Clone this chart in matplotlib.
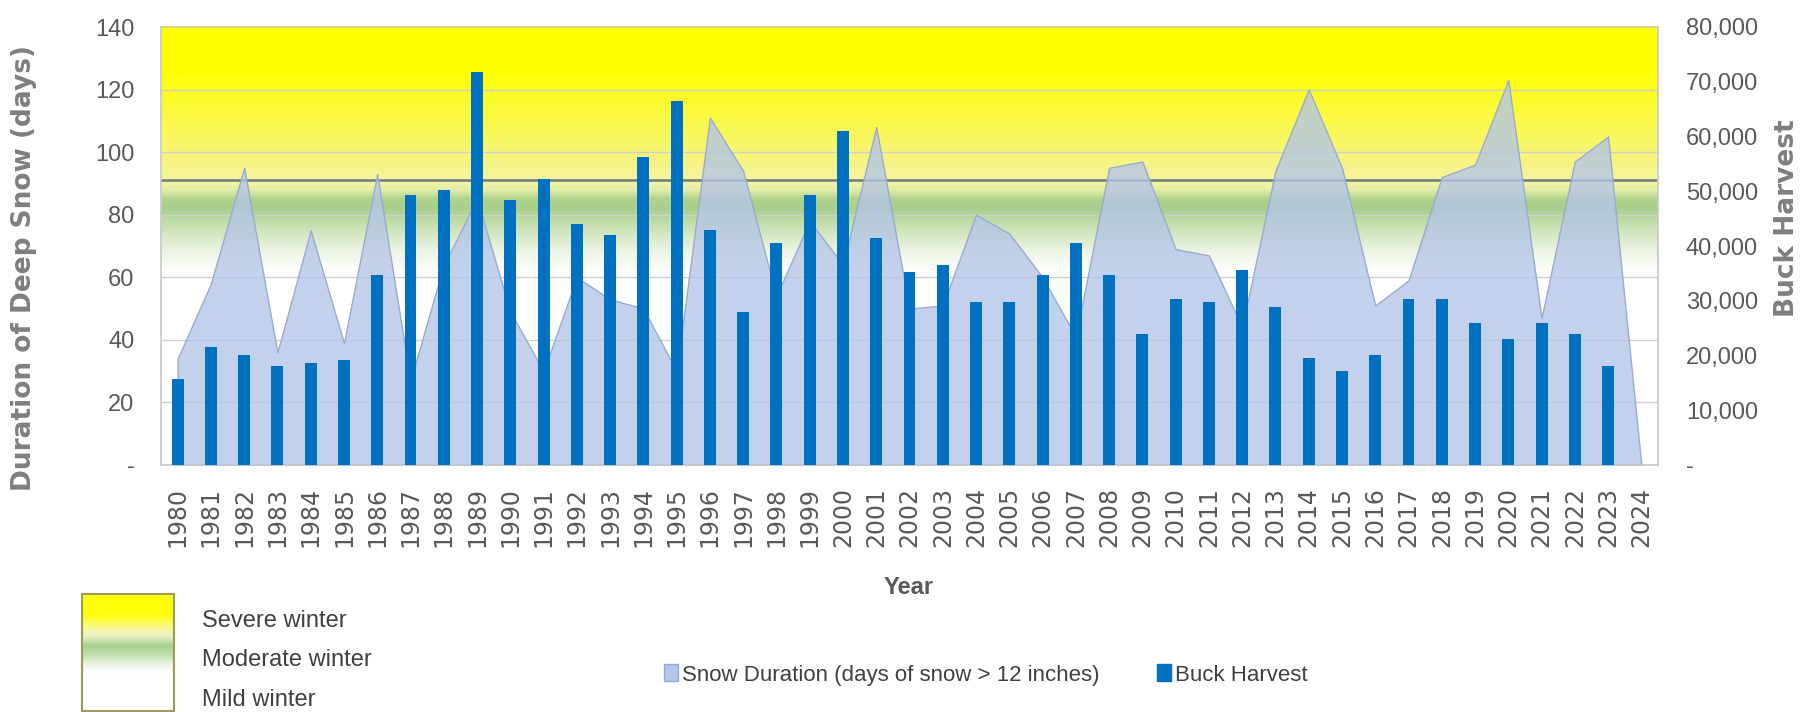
import numpy as np
import matplotlib
matplotlib.use('Agg')
import matplotlib.pyplot as plt
from matplotlib import font_manager
from matplotlib.colors import LinearSegmentedColormap, to_rgba
from matplotlib.patches import Patch

# narrow font if there is one, otherwise Liberation Sans at a smaller size
try:
    font_manager.findfont('Liberation Sans Narrow', fallback_to_default=False)
    NARROW, SCALE = 'Liberation Sans Narrow', 1.2
except ValueError:
    NARROW, SCALE = 'Liberation Sans', 1.0

years = list(range(1980, 2025))

# days of snow > 12 inches (left axis)
snow_days = [34, 58, 95, 36, 75, 39, 93, 27, 64, 85,
             49, 30, 60, 53, 50, 30, 111, 94, 54, 78,
             64, 108, 50, 51, 80, 74, 60, 41, 95, 97,
             69, 67, 44, 94, 120, 95, 51, 59, 92, 96,
             123, 47, 97, 105, 0]

# buck harvest (right axis)
buck_harvest = [15700, 21600, 20100, 18100, 18700, 19100, 34700, 49400, 50300, 71800,
                48400, 52200, 44000, 42000, 56300, 66500, 43000, 27900, 40600, 49400,
                61000, 41500, 35200, 36600, 29800, 29800, 34700, 40600, 34700, 23900,
                30300, 29800, 35700, 28900, 19600, 17100, 20100, 30300, 30300, 25900,
                23000, 25900, 23900, 18100, 0]

severe_line = 91  # days, border between moderate and severe winter

left_ticks = [0, 20, 40, 60, 80, 100, 120, 140]
right_ticks = [0, 10000, 20000, 30000, 40000, 50000, 60000, 70000, 80000]

W, H = 1808, 712
fig = plt.figure(figsize=(W / 100, H / 100), dpi=100)
fig.patch.set_facecolor('white')

ax1 = fig.add_axes([161 / W, 1 - 465 / H, (1658 - 161) / W, (465 - 27) / H])
x = np.arange(len(years))

# background: yellow (severe) -> green (moderate) -> white (mild)
bg_stops = [(0, '#FFFFFF'), (61, '#FFFFFF'), (68, '#EEF5E6'), (76, '#CBE2B5'),
            (82, '#A8CF8C'), (85, '#B0D28C'), (88, '#E2EDAA'), (90.5, '#F4F4A0'),
            (95, '#F6F48C'), (105, '#F9F760'), (118, '#FDFC28'), (126, '#FFFF00'),
            (140, '#FFFF00')]
bg_cmap = LinearSegmentedColormap.from_list('winter', [(v / 140, c) for v, c in bg_stops])
ax1.imshow(np.linspace(0, 140, 600).reshape(-1, 1), cmap=bg_cmap, vmin=0, vmax=140,
           extent=[-0.5, len(years) - 0.5, 0, 140], origin='lower', aspect='auto', zorder=0)

for t in left_ticks[1:-1]:
    ax1.axhline(t, color='#CFCFCF', lw=1, zorder=1)
ax1.axhline(severe_line, color='#6E7C80', lw=1.8, zorder=1.5)

ax1.fill_between(x, snow_days, 0, facecolor=to_rgba('#B4C5E8', 0.78),
                 edgecolor='#9AABCF', lw=1, zorder=2)

ax1.set_xlim(-0.5, len(years) - 0.5)
ax1.set_ylim(0, 140)
ax1.set_yticks(left_ticks)
ax1.set_yticklabels(['-' if t == 0 else str(t) for t in left_ticks],
                    fontsize=17 * SCALE, family=NARROW, color='#595959')
ax1.set_xticks(x)
ax1.set_xticklabels([str(y) for y in years], rotation=90, fontsize=17, color='#595959')
ax1.tick_params(axis='x', length=0, pad=16)
ax1.tick_params(axis='y', length=0, pad=19)
for side, sp in ax1.spines.items():
    sp.set_color('#D2CE86' if side == 'top' else '#C8C8C8')
    sp.set_linewidth(1.2)

ax2 = ax1.twinx()
ax2.bar(x, buck_harvest, width=0.36, color='#0070C0', zorder=3)
ax2.set_ylim(0, 80000)
ax2.set_yticks(right_ticks)
ax2.set_yticklabels(['-' if t == 0 else f'{t:,}' for t in right_ticks],
                    fontsize=17 * SCALE, family=NARROW, color='#595959')
ax2.tick_params(axis='y', length=0, pad=20)
for sp in ax2.spines.values():
    sp.set_visible(False)
ax2.set_xlim(-0.5, len(years) - 0.5)

# axis titles
fig.text(24 / W, 1 - 268 / H, 'Duration of Deep Snow (days)', rotation=90,
         ha='center', va='center', fontsize=19, fontweight='bold', color='#7F7F7F')
fig.text(1787 / W, 1 - 218 / H, 'Buck Harvest', rotation=90,
         ha='center', va='center', fontsize=19, fontweight='bold', color='#7F7F7F')
fig.text(909 / W, 1 - 587 / H, 'Year', ha='center', va='center', fontsize=17 * SCALE,
         fontweight='bold', family=NARROW, color='#595959')

# series legend
handles = [Patch(facecolor='#B4C7E7', edgecolor='#8FAADC', lw=1),
           Patch(facecolor='#0070C0', edgecolor='#0070C0', lw=1)]
fig.legend(handles, ['Snow Duration (days of snow > 12 inches)', 'Buck Harvest'],
           loc='center left', bbox_to_anchor=(664 / W, 1 - 675 / H), ncol=2,
           frameon=False, borderpad=0, borderaxespad=0, handlelength=0.63,
           handleheight=0.77, handletextpad=0.18, columnspacing=2.6,
           prop={'family': NARROW, 'size': 16 * SCALE})
for txt in fig.legends[0].get_texts():
    txt.set_color('#404040')

# winter severity key
key = fig.add_axes([82 / W, 0.002, 92 / W, 117 / H])
key_stops = [(0, '#FFFF00'), (0.18, '#FFFF10'), (0.3, '#FAF8A0'), (0.36, '#E8F0C8'),
             (0.44, '#A9D18E'), (0.5, '#B8D9A5'), (0.62, '#F2F8EE'), (0.68, '#FFFFFF'),
             (1, '#FFFFFF')]
key_cmap = LinearSegmentedColormap.from_list('key', key_stops)
key.imshow(np.linspace(0, 1, 300).reshape(-1, 1), cmap=key_cmap, aspect='auto',
           extent=[0, 1, 1, 0])
key.set_xticks([])
key.set_yticks([])
for sp in key.spines.values():
    sp.set_color('#9C9A5C')
    sp.set_linewidth(1.5)

for label, yy in [('Severe winter', 621), ('Moderate winter', 660), ('Mild winter', 700)]:
    fig.text(202 / W, 1 - yy / H, label, ha='left', va='center', fontsize=17 * SCALE,
             family=NARROW, color='#404040')

fig.savefig('out.png', dpi=100)
